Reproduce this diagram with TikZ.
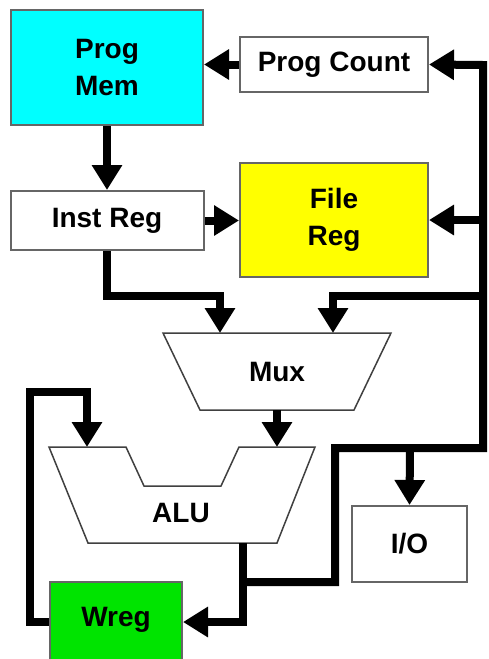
\documentclass[tikz,border=0pt]{standalone}
\usepackage{fontspec}
\setmainfont{Liberation Sans}
\usetikzlibrary{arrows.meta}
\definecolor{memcyan}{RGB}{0,255,255}
\definecolor{regyellow}{RGB}{255,255,0}
\definecolor{wgreen}{RGB}{0,228,0}
\tikzset{
  unit/.style={draw=black!60, line width=2pt, align=center, inner sep=0pt,
    font=\bfseries\fontsize{28}{37}\selectfont},
  label/.style={font=\bfseries\fontsize{28}{37}\selectfont},
  outline/.style={draw=black!75, line width=1.5pt, fill=white},
  wire/.style={line width=8pt, -{Triangle[width=29pt,length=25pt]}},
}
\begin{document}
\begin{tikzpicture}[x=1pt,y=-1pt]
  \useasboundingbox (0,0) rectangle (489,659);
  \fill[white] (0,0) rectangle (489,659);
  % boxes
  \node[unit, fill=memcyan, minimum width=192pt, minimum height=115pt] (progmem) at (107,67.5) {Prog\\Mem};
  \node[unit, fill=white, minimum width=188pt, minimum height=55pt] (progcount) at (334,64.5) {Prog Count};
  \node[unit, fill=white, minimum width=193pt, minimum height=59pt] (instreg) at (107,220.5) {Inst Reg};
  \node[unit, fill=regyellow, minimum width=188pt, minimum height=114pt] (filereg) at (334,220) {File\\Reg};
  \node[unit, fill=white, minimum width=115pt, minimum height=76pt] (io) at (409.5,544) {I/O};
  \node[unit, fill=wgreen, minimum width=132pt, minimum height=80pt] (wreg) at (116,622) {};
  \node[label] (wregtext) at (116,620) {Wreg};
  % mux and alu
  \draw[outline] (163,333) -- (391,333) -- (354,410) -- (200,410) -- cycle;
  \node[label] (mux) at (277,372) {Mux};
  \draw[outline] (49,447) -- (126,447) -- (144,486) -- (221,486) -- (239,447)
    -- (315,447) -- (277,543) -- (88,543) -- cycle;
  \node[label] (alu) at (181,513) {ALU};
  \coordinate (muxinA) at (220,333);
  \coordinate (muxinB) at (333,333);
  \coordinate (muxout) at (277,410);
  \coordinate (aluinA) at (87,447);
  \coordinate (aluinB) at (277,447);
  \coordinate (aluout) at (243,543);
  % wires
  \draw[wire] (progcount.west) -- (progcount.west -| progmem.east);
  \draw[wire] (progmem.south) -- (instreg.north);
  \draw[wire] (instreg.east) -- (instreg.east -| filereg.west);
  \draw[wire] (243,582) -- (335,582) -- (335,448) -- (483,448) -- (483,65) -- (progcount.east);
  \draw[wire] (483,220) -- (filereg.east);
  \draw[wire] (483,296) -- (333,296) -- (muxinB);
  \draw[wire] (instreg.south) -- (107,296) -- (220,296) -- (muxinA);
  \draw[wire] (muxout) -- (aluinB);
  \draw[wire] (410,448) -- (io.north);
  \draw[wire] (aluout) -- (243,622) -- (wreg.east);
  \draw[wire] (wreg.west) -- (30,622) -- (30,392) -- (87,392) -- (aluinA);
\end{tikzpicture}
\end{document}
